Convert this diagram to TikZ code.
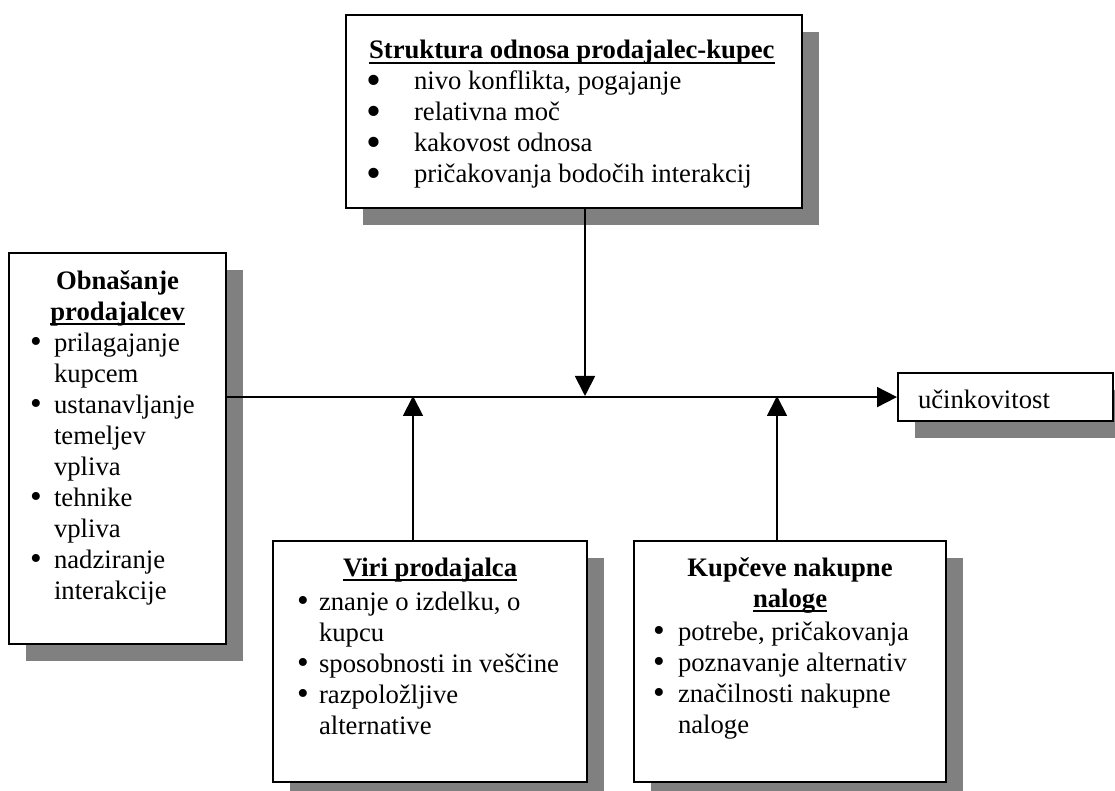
\documentclass[tikz,border=0pt]{standalone}
\usepackage{fontspec}
\usepackage{graphicx}
\setmainfont{Liberation Serif}
\usetikzlibrary{arrows.meta, shadows}
\definecolor{shadegray}{HTML}{808080}
\newlength{\px}\setlength{\px}{0.75pt}
\newlength{\bulind}
\newlength{\ulw}
% bullet mark (boxes change its size)
\newcommand{\bulsym}{\raisebox{-1.5\px}{\scalebox{1.25}{\textbullet}}}
% bullet item with hanging indent
\newcommand{\bul}[1]{\par\hangindent=\bulind\hangafter=1\noindent\makebox[\bulind][l]{\bulsym}#1}
% thick underline close to the baseline
\newcommand{\uln}[1]{\leavevmode\settowidth{\ulw}{#1}\rlap{\rule[-5\px]{\ulw}{2\px}}#1}
% box content: width, height (px), text
\newcommand{\panel}[3]{\parbox[c][#2\px][t]{#1\px}{#3}}

\begin{document}
\begin{tikzpicture}[x=0.75pt, y=-0.75pt,
  box/.style={draw, line width=1.6pt, fill=white, inner sep=0pt, anchor=north west,
    font=\fontsize{20}{23.25}\selectfont,
    drop shadow={shadow xshift=12.75pt, shadow yshift=-12.75pt, fill=shadegray, opacity=1}},
  link/.style={line width=1.4pt, -{Triangle[length=15pt, width=15pt]}}]

% Background
\fill[white] (0,0) rectangle (1115,791);
\useasboundingbox (0,0) rectangle (1115,791);

% ============================================================
% Boxes
% ============================================================
\node[box] (struct) at (345,14) {\panel{456}{193}{\vspace*{25\px}%
  \renewcommand{\bulsym}{\raisebox{-4.5\px}{\scalebox{1.6}{\textbullet}}}%
  \leftskip=20\px \setlength{\bulind}{48\px}%
  \noindent\hspace*{3\px}\textbf{\uln{Struktura odnosa prodajalec-kupec}}%
  \bul{nivo konflikta, pogajanje}%
  \bul{relativna moč}%
  \bul{kakovost odnosa}%
  \bul{pričakovanja bodočih interakcij}\par}};

\node[box] (behav) at (8,252) {\panel{217}{391}{\vspace*{17.5\px}%
  {\centering\bfseries Obnašanje\\\uln{prodajalcev}\par}%
  \leftskip=21\px \setlength{\bulind}{24\px}%
  \bul{prilagajanje\newline kupcem}%
  \bul{ustanavljanje\newline temeljev\newline vpliva}%
  \bul{tehnike\newline vpliva}%
  \bul{nadziranje\newline interakcije}\par}};

\node[box] (res) at (272,540) {\panel{314}{241}{\vspace*{16.5\px}%
  {\centering\bfseries\uln{Viri prodajalca}\par}\vspace{3\px}%
  \leftskip=24\px \setlength{\bulind}{22\px}%
  \bul{znanje o izdelku, o\newline kupcu}%
  \bul{sposobnosti in veščine}%
  \bul{razpoložljive\newline alternative}\par}};

\node[box] (task) at (633,540) {\panel{312}{241}{\vspace*{16.5\px}%
  {\centering\bfseries Kupčeve nakupne\\\uln{naloge}\par}\vspace{2\px}%
  \leftskip=19\px \setlength{\bulind}{25\px}%
  \bul{potrebe, pričakovanja}%
  \bul{poznavanje alternativ}%
  \bul{značilnosti nakupne\newline naloge}\par}};

\node[box] (effect) at (897,372) {\panel{215}{48}{\vspace*{16.5\px}%
  \leftskip=20\px \noindent učinkovitost\par}};

% ============================================================
% Connectors
% ============================================================
\coordinate (topjoin) at (585,396);
\coordinate (resjoin) at (413,396);
\coordinate (taskjoin) at (777,396);

\draw[link] (behav.east |- effect.west) -- (effect.west);
\draw[link] (struct.south -| topjoin) -- (topjoin);
\draw[link] (res.north -| resjoin) -- (resjoin);
\draw[link] (task.north -| taskjoin) -- (taskjoin);

\end{tikzpicture}
\end{document}
